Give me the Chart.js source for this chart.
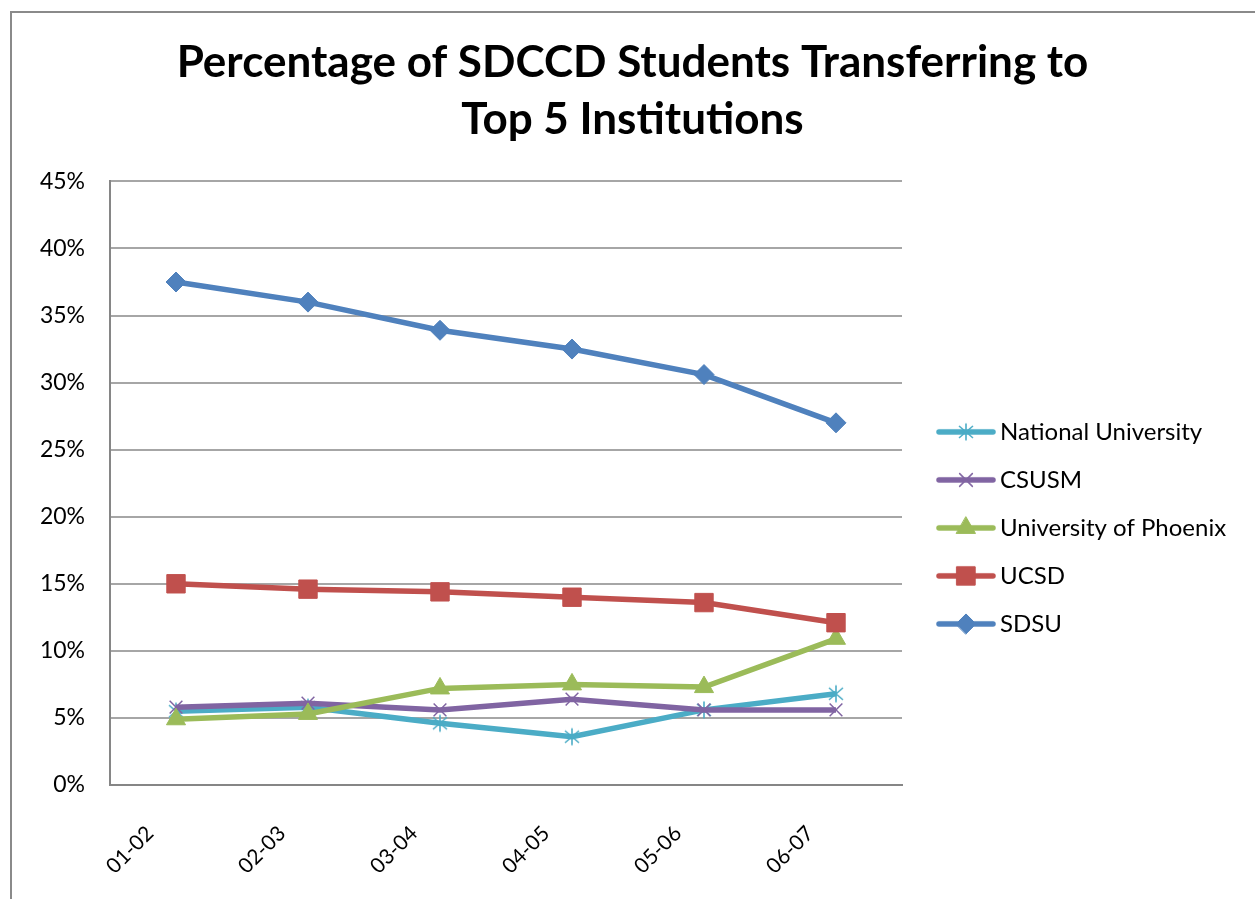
<!DOCTYPE html>
<html>
<head>
<meta charset="utf-8">
<script src="https://cdn.jsdelivr.net/npm/chart.js@4"></script>
<style>
  html, body { margin: 0; padding: 0; background: #fff; }
  #wrap { width: 1255px; height: 899px; }
</style>
</head>
<body>
<div id="wrap"><canvas id="transferChart" width="1255" height="899"></canvas></div>
<script>
// school years on the x axis
const years = ["01-02", "02-03", "03-04", "04-05", "05-06", "06-07"];

// percent of transfers
const nationalU = [5.5, 5.8, 4.6, 3.6, 5.6, 6.8];
const csusm = [5.8, 6.1, 5.6, 6.4, 5.6, 5.6];
const phoenix = [4.9, 5.3, 7.2, 7.5, 7.3, 10.9];
const ucsd = [15.0, 14.6, 14.4, 14.0, 13.6, 12.1];
const sdsu = [37.5, 36.0, 33.9, 32.5, 30.6, 27.0];

const yMax = 45;
const yStep = 5;

const FONT = "Lato, 'Noto Sans', sans-serif";
const gridGray = "#a6a6a6";
const axisGray = "#868686";

// Excel's star marker: a vertical stroke plus an X
function asterisk(color) {
    const c = document.createElement("canvas");
    c.width = 20;
    c.height = 20;
    const g = c.getContext("2d");
    g.strokeStyle = color;
    g.lineWidth = 1.6;
    g.beginPath();
    g.moveTo(10, 1.5); g.lineTo(10, 18.5);
    g.moveTo(3, 4); g.lineTo(17, 16);
    g.moveTo(17, 4); g.lineTo(3, 16);
    g.stroke();
    return c;
}

// little line + marker icon for the legend
function legendIcon(color, style, radius, border) {
    const c = document.createElement("canvas");
    c.width = 80;
    c.height = 28;
    const g = c.getContext("2d");
    g.strokeStyle = color;
    g.fillStyle = color;
    g.lineWidth = 5.5;
    g.lineCap = "round";
    g.beginPath();
    g.moveTo(22, 14);
    g.lineTo(76, 14);
    g.stroke();
    g.lineWidth = border;
    if (typeof style === "string") {
        Chart.helpers.drawPoint(g, { pointStyle: style, radius, borderWidth: border, rotation: 0 }, 49, 14);
    } else {
        g.drawImage(style, 49 - style.width / 2, 14 - style.height / 2);
    }
    return c;
}

function series(label, data, color, style, radius, border, order) {
    return {
        label,
        data,
        order,
        borderColor: color,
        backgroundColor: color,
        borderWidth: 5.5,
        pointStyle: style,
        pointRadius: radius,
        pointHoverRadius: radius,
        pointBorderWidth: border,
        pointBackgroundColor: color,
        pointBorderColor: color,
        tension: 0,
        fill: false,
        icon: legendIcon(color, style, radius, border)
    };
}

const datasets = [
    series("National University", nationalU, "#4BACC6", asterisk("#4BACC6"), 9, 1.5, 5),
    series("CSUSM", csusm, "#8064A2", "crossRot", 9, 1.5, 4),
    series("University of Phoenix", phoenix, "#9BBB59", "triangle", 11, 1, 3),
    series("UCSD", ucsd, "#C0504D", "rect", 13, 1, 2),
    series("SDSU", sdsu, "#4F81BD", "rectRot", 10, 1, 1)
];

const legendFontSize = 24;
const legendPad = 24;
const iconWidth = 62;
const plotRight = 902;
const padRight = -10;

const frame = {
    id: "frame",
    beforeDraw(chart) {
        const ctx = chart.ctx;
        ctx.save();
        ctx.fillStyle = "#fff";
        ctx.fillRect(0, 0, chart.width, chart.height);
        ctx.strokeStyle = "#8a8a8a";
        ctx.lineWidth = 2;
        ctx.strokeRect(11, 12, 1400, 1000);
        ctx.restore();
    }
};

// fix the legend box width so the plot stops at the same x as the picture
const legendWidthFix = {
    id: "legendWidthFix",
    beforeLayout(chart) {
        const lg = chart.legend;
        if (!lg || lg._widthFixed) return;
        const fit = lg.fit;
        lg.fit = function () {
            fit.call(this);
            this.width = chart.width - padRight - plotRight;
        };
        lg._widthFixed = true;
    }
};

new Chart(document.getElementById("transferChart"), {
    type: "line",
    data: { labels: years, datasets },
    plugins: [frame, legendWidthFix],
    options: {
        responsive: false,
        animation: false,
        layout: {
            padding: { left: 0, top: 0, bottom: 0, right: padRight }
        },
        plugins: {
            tooltip: { enabled: false },
            title: {
                display: true,
                text: ["Percentage of SDCCD Students Transferring to", "Top 5 Institutions"],
                color: "#000",
                font: { family: FONT, size: 44, weight: "bold", lineHeight: 1.3 },
                padding: { top: 34, bottom: 33 }
            },
            legend: {
                position: "right",
                align: "center",
                fullSize: false,
                title: { display: true, text: "", padding: { top: 0, bottom: 75 } },
                labels: {
                    usePointStyle: true,
                    pointStyleWidth: iconWidth,
                    padding: legendPad,
                    color: "#000",
                    font: { family: FONT, size: legendFontSize },
                    generateLabels: chart => chart.data.datasets.map((ds, i) => ({
                        text: ds.label,
                        pointStyle: ds.icon,
                        fillStyle: ds.borderColor,
                        strokeStyle: ds.borderColor,
                        lineWidth: 0,
                        fontColor: "#000",
                        hidden: false,
                        datasetIndex: i
                    }))
                }
            }
        },
        scales: {
            x: {
                offset: true,
                grid: { display: false, drawTicks: false },
                border: { color: axisGray, width: 2 },
                ticks: {
                    color: "#000",
                    font: { family: FONT, size: 21 },
                    minRotation: 45,
                    maxRotation: 45,
                    padding: 36,
                    labelOffset: -26
                },
                afterFit: s => { s.height = 114; }
            },
            y: {
                min: 0,
                max: yMax,
                grid: { color: gridGray, lineWidth: 2, drawTicks: false },
                border: { color: axisGray, width: 2 },
                ticks: {
                    stepSize: yStep,
                    color: "#000",
                    font: { family: FONT, size: 23 },
                    padding: 25,
                    callback: v => v + "%"
                },
                afterFit: s => { s.width = 110; }
            }
        }
    }
});
</script>
</body>
</html>
